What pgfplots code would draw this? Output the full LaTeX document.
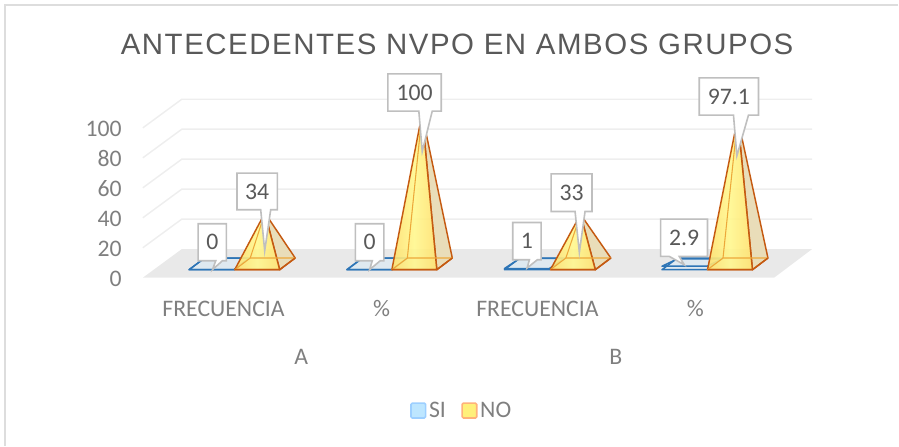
\documentclass[border=0pt]{standalone}
\usepackage{fontspec}
\setmainfont{Carlito}
\newfontfamily\titlefont[LetterSpace=5.2]{Liberation Sans}
\usepackage{pgfplots}
\pgfplotsset{compat=1.18}
\definecolor{txt}{HTML}{7F7F7F}
\definecolor{lab}{HTML}{595959}
\definecolor{gridc}{HTML}{EEEEEE}
\definecolor{floorc}{HTML}{E9E9E9}
\definecolor{frameC}{HTML}{DDDDDD}
\definecolor{orE}{HTML}{C55A11}
\definecolor{orI}{HTML}{EDA83A}
\definecolor{orT}{HTML}{E9DDB9}
\definecolor{orO}{HTML}{FFE06E}
\definecolor{orC}{HTML}{FFF78E}
\definecolor{blE}{HTML}{2E75B6}
\definecolor{blF}{HTML}{DFE9F0}
\definecolor{coB}{HTML}{BFBFBF}
\definecolor{lgBF}{HTML}{BDE6FF}
\definecolor{lgBE}{HTML}{9DCFFF}
\definecolor{lgOE}{HTML}{FFB27A}
\definecolor{lgOF}{HTML}{FFF07A}
\newcommand\sz{\fontsize{17.8}{20}\selectfont}
% pyramid: front-left x, value
\newcommand\Pyr[2]{%
  \pgfmathsetmacro\xa{#1}\pgfmathsetmacro\xb{#1+45}\pgfmathsetmacro\xc{#1+60.5}\pgfmathsetmacro\xd{#1+15.5}\pgfmathsetmacro\xe{#1+30.2}\pgfmathsetmacro\ye{9.23+#2}%
  \addplot[forget plot,draw=orE,line width=1.1pt,line join=round,fill=orT] coordinates {(\xb,5.33)(\xc,13.13)(\xe,\ye)} -- cycle;
  \addplot[forget plot,draw=orE,line width=1.1pt,line join=round,left color=orO,right color=orO,middle color=orC,fill opacity=.9] coordinates {(\xa,5.33)(\xb,5.33)(\xe,\ye)} -- cycle;
  \addplot[forget plot,draw=orI,line width=.8pt] coordinates {(\xa,5.33)(\xd,13.13)(\xc,13.13)};
  \addplot[forget plot,draw=orI,line width=.8pt] coordinates {(\xd,13.13)(\xe,\ye)};
  \addplot[forget plot,draw=orE,line width=1.1pt,line join=round] coordinates {(\xa,5.33)(\xb,5.33)(\xc,13.13)};
}
% small SI values: flat base, with the top outline lifted by the value
\newcommand\PyrB[2]{%
  \pgfmathsetmacro\xa{#1}\pgfmathsetmacro\xb{#1+45}\pgfmathsetmacro\xc{#1+60.5}\pgfmathsetmacro\xd{#1+15.5}%
  \pgfmathsetmacro\ya{5.33+#2*.8}\pgfmathsetmacro\yb{13.13-#2*.2}%
  \addplot[forget plot,draw=blE,line width=1.1pt,line join=round,fill=blF] coordinates {(\xa,5.33)(\xb,5.33)(\xc,13.13)(\xd,13.13)} -- cycle;
  \addplot[forget plot,draw=blE,line width=1.1pt,line join=round] coordinates {(\xa,\ya)(\xb,\ya)(\xc,\yb)(\xd,\yb)} -- cycle;
}
% callout, pixels: left,right,top,bottom,stem1,stem2,tipx,tipy,text
\newcommand\Callout[9]{%
  \pgfmathsetmacro\yt{(278-#3)/1.5}\pgfmathsetmacro\yb{(278-#4)/1.5}\pgfmathsetmacro\yp{(278-#8)/1.5}%
  \pgfmathsetmacro\cx{(#1+#2)/2}\pgfmathsetmacro\cy{(\yt+\yb)/2}%
  \addplot[forget plot,draw=coB,line width=1.2pt,fill=white,line join=miter] coordinates {(#1,\yt)(#2,\yt)(#2,\yb)(#6,\yb)(#7,\yp)(#5,\yb)(#1,\yb)} -- cycle;
  \edef\tmp{\noexpand\node[font=\noexpand\sz,text=lab,inner sep=0pt] at (axis cs:\cx,\cy) {#9};}\tmp
}
\begin{document}
\begin{tikzpicture}
\begin{axis}[
  scale only axis, width=674.25pt, height=334.5pt,
  xmin=0, xmax=899, ymin=-112, ymax=185.333,
  clip=false,
  axis line style={draw=none}, tick style={draw=none},
  /pgf/number format/assume math mode=true,
  ytick={0,20,40,60,80,100},
  yticklabel style={anchor=east, xshift=91.5pt, yshift=-.6pt, font=\sz, text=txt, inner sep=0pt},
  xtick={223.8,382,538,696},
  xticklabels={FRECUENCIA,\%,FRECUENCIA,\%},
  xticklabel style={anchor=center, yshift=102.5pt, font=\sz, text=txt, inner sep=0pt},
  extra x ticks={301.5,616.5},
  extra x tick labels={A,B},
  extra x tick style={xticklabel style={anchor=center, yshift=-35.75pt, font=\sz, text=txt, inner sep=0pt}},
  title={ANTECEDENTES NVPO EN AMBOS GRUPOS},
  title style={at={(0.509,0.882)}, anchor=center, inner sep=0pt, text=lab, font=\fontsize{22.1}{26}\selectfont\titlefont},
  legend style={at={(0.5145,0.0785)}, anchor=center, draw=none, fill=none, legend columns=2, font=\sz, text=txt,
    /tikz/every even column/.append style={column sep=9.5pt}, inner sep=0pt},
]
\addlegendimage{legend image code/.code={\draw[draw=lgBE,line width=1.2pt,rounded corners=1pt,fill=lgBF] (0pt,-5.6pt) rectangle (11pt,5.6pt);}}
\addlegendentry{SI}
\addlegendimage{legend image code/.code={\draw[draw=lgOE,line width=1.2pt,rounded corners=1pt,fill=lgOF] (0pt,-5.6pt) rectangle (11pt,5.6pt);}}
\addlegendentry{NO}
% frame
\addplot[forget plot,draw=frameC,line width=1.5pt] coordinates {(899,181.67)(5.5,181.67)(5.5,-112)};
% floor
\addplot[forget plot,draw=none,fill=floorc] coordinates {(143,0)(182,19.1)(813,19.1)(775,0)} -- cycle;
% walls
\addplot[forget plot,draw=gridc,line width=1.1pt] coordinates {(143,20)(182,39.1)(813,39.1)};
\addplot[forget plot,draw=gridc,line width=1.1pt] coordinates {(143,40)(182,59.1)(813,59.1)};
\addplot[forget plot,draw=gridc,line width=1.1pt] coordinates {(143,60)(182,79.1)(813,79.1)};
\addplot[forget plot,draw=gridc,line width=1.1pt] coordinates {(143,80)(182,99.1)(813,99.1)};
\addplot[forget plot,draw=gridc,line width=1.1pt] coordinates {(143,100)(182,119.1)(813,119.1)};
% series SI
\PyrB{189.3}{0}
\PyrB{347.3}{0}
\PyrB{505}{1}
\PyrB{662.7}{2.9}
% series NO
\Pyr{235}{34}
\Pyr{392.3}{100}
\Pyr{551}{33}
\Pyr{708.3}{97.1}
% data labels
\Callout{198.3}{226.7}{224}{261}{216}{222.7}{212.7}{270}{0}
\Callout{237.3}{277.7}{173.3}{210}{261}{271}{265}{251}{34}
\Callout{355.7}{384.3}{224}{261}{372.7}{380.7}{370}{270}{0}
\Callout{388.3}{441.7}{74}{111.3}{419.3}{432.7}{422.7}{151.7}{100}
\Callout{513.3}{541.7}{222.7}{260}{530}{538}{527.7}{268.3}{1}
\Callout{551.7}{592.7}{174}{211.7}{575.7}{585.7}{580}{252.7}{33}
\Callout{661.3}{708.3}{219.3}{256.7}{670}{680}{685}{265}{2.9}
\Callout{700}{759.3}{78}{115.3}{734.3}{749.3}{737.7}{156}{97.1}
\end{axis}
\end{tikzpicture}
\end{document}
